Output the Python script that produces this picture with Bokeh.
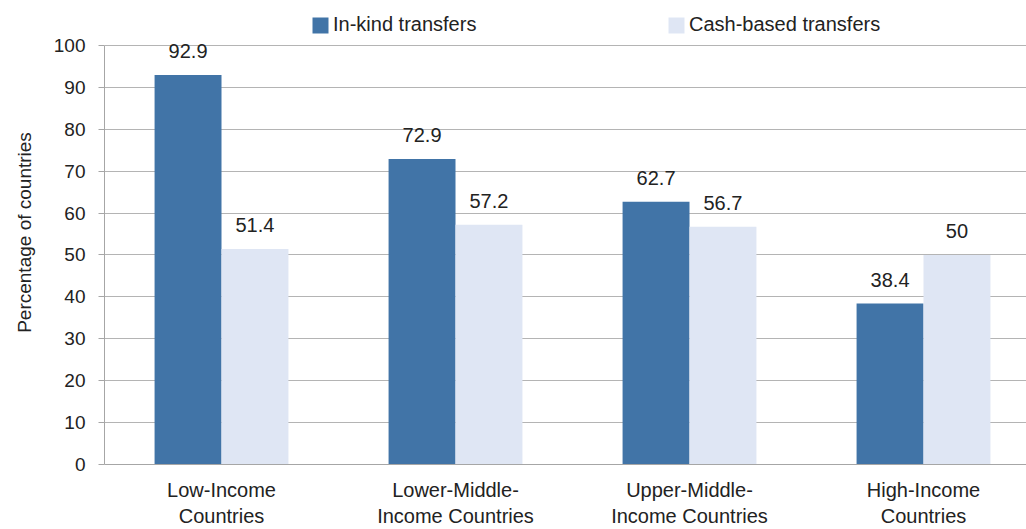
from bokeh.plotting import figure
from bokeh.models import (Range1d, FixedTicker, Legend, LegendItem,
                          ColumnDataSource)
from bokeh.core.properties import value
from bokeh.embed import file_html
from bokeh.resources import INLINE

categories = ["Low-Income\nCountries", "Lower-Middle-\nIncome Countries",
              "Upper-Middle-\nIncome Countries", "High-Income\nCountries"]
inkind = [92.9, 72.9, 62.7, 38.4]
cash = [51.4, 57.2, 56.7, 50]
inkind_labels = ["92.9", "72.9", "62.7", "38.4"]
cash_labels = ["51.4", "57.2", "56.7", "50"]
y_ticks = list(range(0, 101, 10))

FONT = "Liberation Sans"
TXT = "#222222"
BLUE = "#4174a7"
LIGHT = "#dfe6f4"
GRID = "#b4b4b4"
AXIS = "#a6a6a6"

bw = 0.286
centers = [i + 0.5 for i in range(len(categories))]
src = ColumnDataSource(dict(
    c=centers,
    xi=[c - bw / 2 for c in centers],
    xc=[c + bw / 2 for c in centers],
    inkind=inkind, cash=cash,
    il=inkind_labels, cl=cash_labels,
))

p = figure(width=1026, height=529, output_backend="svg", toolbar_location=None,
           x_range=Range1d(0, 922 / 234), y_range=Range1d(0, 110.7),
           min_border_left=104, min_border_right=0, min_border_top=0,
           min_border_bottom=65)
p.outline_line_color = None
p.background_fill_color = "white"
p.border_fill_color = "white"

r1 = p.vbar(x="xi", top="inkind", width=bw, source=src, fill_color=BLUE, line_color=None)
r2 = p.vbar(x="xc", top="cash", width=bw, source=src, fill_color=LIGHT, line_color=None)

p.text(x="xi", y="inkind", text="il", source=src, y_offset=-24,
       text_align="center", text_baseline="alphabetic",
       text_font=value(FONT), text_font_size="20px", text_color=TXT)
p.text(x="xc", y="cash", text="cl", source=src, y_offset=-24,
       text_align="center", text_baseline="alphabetic",
       text_font=value(FONT), text_font_size="20px", text_color=TXT)

# axes
p.xaxis.ticker = FixedTicker(ticks=centers)
p.xaxis.major_label_overrides = {c: lab for c, lab in zip(centers, categories)}
p.xaxis.major_tick_out = 0
p.xaxis.major_tick_in = 0
p.xaxis.minor_tick_out = 0
p.xaxis.minor_tick_in = 0
p.xaxis.axis_line_color = AXIS
p.xaxis.major_label_standoff = 14
p.xaxis.major_label_text_font = FONT
p.xaxis.major_label_text_font_size = "20px"
p.xaxis.major_label_text_color = TXT

p.yaxis.ticker = FixedTicker(ticks=y_ticks)
p.yaxis.bounds = (0, 100)
p.yaxis.major_tick_out = 6
p.yaxis.major_tick_in = 0
p.yaxis.minor_tick_out = 0
p.yaxis.minor_tick_in = 0
p.yaxis.axis_line_color = AXIS
p.yaxis.major_tick_line_color = AXIS
p.yaxis.major_label_standoff = 13
p.yaxis.major_label_text_font = FONT
p.yaxis.major_label_text_font_size = "19px"
p.yaxis.major_label_text_color = TXT
p.yaxis.axis_label = "Percentage of countries"
p.yaxis.axis_label_standoff = 16
p.yaxis.axis_label_text_font = FONT
p.yaxis.axis_label_text_font_size = "19px"
p.yaxis.axis_label_text_font_style = "normal"
p.yaxis.axis_label_text_color = TXT

p.xgrid.visible = False
p.ygrid.ticker = FixedTicker(ticks=y_ticks[1:])
p.ygrid.grid_line_color = GRID
p.ygrid.grid_line_width = 1

# legends (location in pixels from the frame's bottom-left)
for rend, name, loc in [(r1, "In-kind transfers", (206, 428)),
                        (r2, "Cash-based transfers", (562, 428))]:
    lg = Legend(items=[LegendItem(label=name, renderers=[rend])], location=loc,
                orientation="horizontal", padding=0, margin=0, spacing=0,
                glyph_width=20, glyph_height=20, label_height=20,
                label_standoff=3, border_line_color=None,
                background_fill_alpha=0,
                label_text_font=FONT, label_text_font_size="20px",
                label_text_color=TXT)
    p.add_layout(lg)

open("out.html", "w").write(file_html(p, INLINE))
